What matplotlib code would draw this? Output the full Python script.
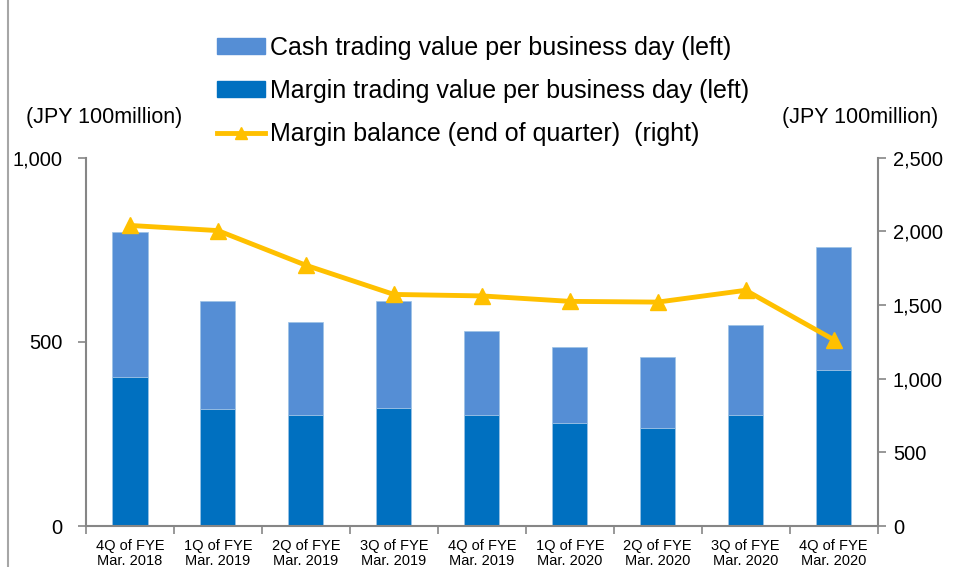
import matplotlib
matplotlib.use("Agg")
import matplotlib.pyplot as plt
from matplotlib.lines import Line2D
from matplotlib.patches import Patch
import numpy as np

plt.rcParams['font.family'] = ['Liberation Sans', 'DejaVu Sans']

# quarters
quarters = ['4Q of FYE\nMar. 2018', '1Q of FYE\nMar. 2019', '2Q of FYE\nMar. 2019',
            '3Q of FYE\nMar. 2019', '4Q of FYE\nMar. 2019', '1Q of FYE\nMar. 2020',
            '2Q of FYE\nMar. 2020', '3Q of FYE\nMar. 2020', '4Q of FYE\nMar. 2020']
# per business day, JPY 100 million (left axis)
margin_value = [404, 317, 302, 322, 302, 280, 267, 302, 423]
total_value = [799, 611, 555, 611, 529, 485, 459, 545, 757]
cash_value = [t - m for t, m in zip(total_value, margin_value)]
# margin balance at end of quarter (right axis)
margin_balance = [2040, 2005, 1770, 1572, 1562, 1525, 1520, 1600, 1265]

cash_color = '#558ED5'
margin_color = '#0070C0'
line_color = '#FFC000'
axis_gray = '#868686'

fig = plt.figure(figsize=(9.55, 5.67), dpi=100)
ax = fig.add_axes([0.090, 0.072, 0.829, 0.650])
x = np.arange(len(quarters))

ax.bar(x, margin_value, width=0.4, color=margin_color, edgecolor='#9DC3E6', linewidth=0.5, zorder=2)
ax.bar(x, cash_value, width=0.4, bottom=margin_value, color=cash_color, edgecolor='#9DC3E6', linewidth=0.5, zorder=2)

ax.set_xlim(-0.5, len(quarters) - 0.5)
ax.set_ylim(0, 1000)
ax.set_yticks([0, 500, 1000])
ax.set_yticklabels(['0', '500', '1,000'])
ax.set_xticks(x)
ax.set_xticklabels(quarters, fontsize=10.5, linespacing=1.1)
ax.set_xticks(np.arange(-0.5, len(quarters)), minor=True)
ax.tick_params(axis='x', which='major', length=0, pad=9)
ax.tick_params(axis='x', which='minor', length=6, color=axis_gray, direction='out', width=1.2)
ax.tick_params(axis='y', labelsize=14.5, length=6, color=axis_gray, width=1.2, pad=11)

for s in ['top', 'right']:
    ax.spines[s].set_visible(False)
for s in ['left', 'bottom']:
    ax.spines[s].set_color(axis_gray)
    ax.spines[s].set_linewidth(1.5)

ax2 = ax.twinx()
ax2.plot(x, margin_balance, color=line_color, linewidth=3.5, marker='^', markersize=11, zorder=3)
ax2.set_ylim(0, 2500)
ax2.set_yticks([0, 500, 1000, 1500, 2000, 2500])
ax2.set_yticklabels(['0', '500', '1,000', '1,500', '2,000', '2,500'])
ax2.tick_params(axis='y', labelsize=14.5, length=6, color=axis_gray, width=1.2, pad=5)
for s in ['top', 'left', 'bottom']:
    ax2.spines[s].set_visible(False)
ax2.spines['right'].set_color(axis_gray)
ax2.spines['right'].set_linewidth(1.5)

# unit labels
fig.text(0.027, 0.793, '(JPY 100million)', fontsize=15.5, ha='left', va='center')
fig.text(0.982, 0.793, '(JPY 100million)', fontsize=15.5, ha='right', va='center')

# legend
handles = [Patch(color=cash_color), Patch(color=margin_color),
           Line2D([], [], color=line_color, linewidth=3.5, marker='^', markersize=9)]
labels = ['Cash trading value per business day (left)',
          'Margin trading value per business day (left)',
          'Margin balance (end of quarter)  (right)']
fig.legend(handles, labels, loc='upper left', bbox_to_anchor=(0.217, 0.955), frameon=False,
           fontsize=18, handlelength=1.9, handleheight=0.6, handletextpad=0.2, labelspacing=0.77,
           borderaxespad=0)

# thin gray border line at far left
fig.add_artist(Line2D([0.0085, 0.0085], [0, 1], color='#A6A6A6', linewidth=1.5, transform=fig.transFigure))

fig.savefig('out.png', dpi=100)
